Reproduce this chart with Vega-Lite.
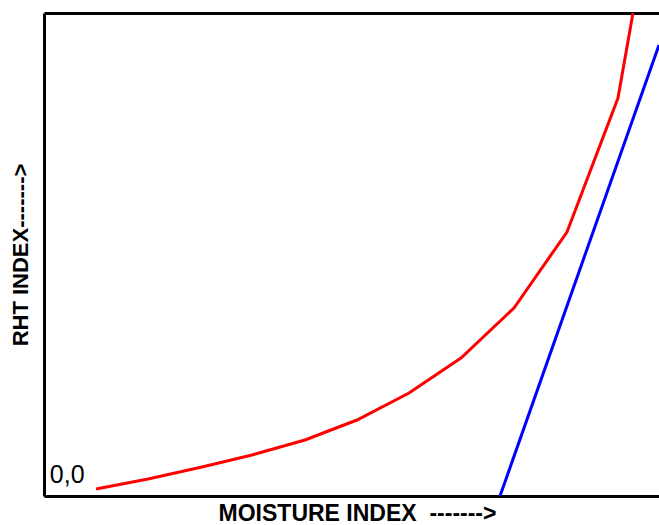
{
  "$schema": "https://vega.github.io/schema/vega-lite/v6.json",
  "autosize": "none",
  "width": 615,
  "height": 483,
  "padding": {"left": 44, "top": 13, "right": 0, "bottom": 29},
  "background": "white",
  "config": {"view": {"stroke": null}, "font": "Liberation Sans"},
  "datasets": {
    "curves": [
      {"series": "RHT", "x": 8.46, "y": 1.45},
      {"series": "RHT", "x": 16.91, "y": 3.52},
      {"series": "RHT", "x": 25.69, "y": 6.0},
      {"series": "RHT", "x": 33.82, "y": 8.49},
      {"series": "RHT", "x": 42.44, "y": 11.59},
      {"series": "RHT", "x": 50.89, "y": 15.73},
      {"series": "RHT", "x": 59.35, "y": 21.33},
      {"series": "RHT", "x": 67.8, "y": 28.57},
      {"series": "RHT", "x": 76.42, "y": 38.92},
      {"series": "RHT", "x": 85.04, "y": 54.66},
      {"series": "RHT", "x": 93.33, "y": 82.4},
      {"series": "RHT", "x": 95.77, "y": 100},
      {"series": "Linear", "x": 74.15, "y": 0},
      {"series": "Linear", "x": 100, "y": 93.4}
    ],
    "labels": [{"x": 0.95, "y": 2.6, "text": "0,0"}]
  },
  "resolve": {"axis": {"x": "independent"}},
  "layer": [
    {
      "data": {"name": "curves"},
      "mark": {"type": "line", "strokeWidth": 3, "clip": true},
      "encoding": {
        "x": {
          "field": "x", "type": "quantitative",
          "scale": {"domain": [0, 100], "nice": false, "zero": false},
          "axis": {
            "orient": "bottom",
            "title": "MOISTURE INDEX\u00a0 ------->",
            "titleFont": "Liberation Sans", "titleFontSize": 23, "titleFontWeight": "bold",
            "titleColor": "black", "titlePadding": 6, "titleX": 313,
            "labels": false, "ticks": false, "grid": false,
            "domainColor": "black", "domainWidth": 3
          }
        },
        "y": {
          "field": "y", "type": "quantitative",
          "scale": {"domain": [0, 100], "nice": false, "zero": false},
          "axis": {
            "title": "RHT INDEX------->",
            "titleFont": "Liberation Sans", "titleFontSize": 22, "titleFontWeight": "bold",
            "titleColor": "black", "titlePadding": 12,
            "labels": false, "ticks": false, "grid": false,
            "domainColor": "black", "domainWidth": 3
          }
        },
        "color": {
          "field": "series", "type": "nominal",
          "scale": {"domain": ["RHT", "Linear"], "range": ["#ff0000", "#0000ff"]},
          "legend": null
        }
      }
    },
    {
      "data": {"name": "curves"},
      "mark": {"type": "rule", "strokeWidth": 0},
      "encoding": {
        "x": {
          "field": "x", "type": "quantitative",
          "axis": {
            "orient": "top", "title": null, "labels": false, "ticks": false, "grid": false,
            "domainColor": "black", "domainWidth": 3
          }
        }
      }
    },
    {
      "data": {"name": "labels"},
      "mark": {"type": "text", "align": "left", "baseline": "alphabetic", "fontSize": 25, "font": "Liberation Sans", "color": "black"},
      "encoding": {
        "x": {"field": "x", "type": "quantitative", "axis": null},
        "y": {"field": "y", "type": "quantitative"},
        "text": {"field": "text"}
      }
    }
  ]
}
